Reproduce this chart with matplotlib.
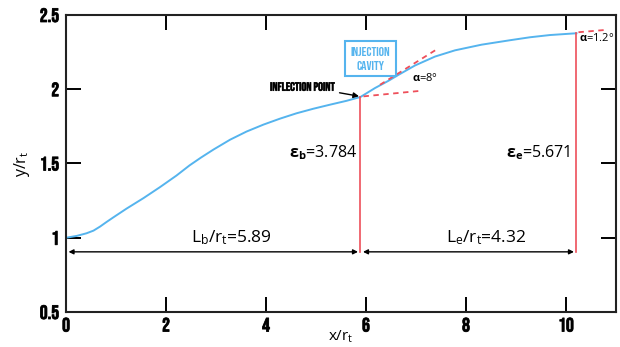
import matplotlib.pyplot as plt
import matplotlib.patheffects as pe

# nozzle contour (x/rt, y/rt)
x_contour = [0.0, 0.21, 0.41, 0.55, 0.68, 0.81, 0.95, 1.21, 1.55, 1.88, 2.21, 2.47, 2.7,
             2.95, 3.28, 3.61, 3.95, 4.28, 4.61, 4.95, 5.28, 5.61, 5.89,
             6.18, 6.45, 6.65, 6.98, 7.38, 7.78, 8.31, 8.88, 9.28, 9.68, 10.21]
y_contour = [1.0, 1.012, 1.03, 1.048, 1.075, 1.106, 1.138, 1.196, 1.267, 1.341, 1.419, 1.487, 1.54,
             1.594, 1.66, 1.715, 1.762, 1.802, 1.838, 1.869, 1.896, 1.922, 1.948,
             2.008, 2.057, 2.097, 2.16, 2.22, 2.262, 2.30, 2.33, 2.35, 2.365, 2.377]

x_infl, y_infl = 5.89, 1.948
x_exit, y_exit = 10.21, 2.377
y_dim = 0.905
Lb, Le = 5.89, 4.32
eps_b, eps_e = 3.784, 5.671

# tangent guides (red dashed)
tan_b_x, tan_b_y = [5.95, 7.11], [1.952, 1.99]
tan_c_x, tan_c_y = [6.28, 7.45], [2.03, 2.276]
tan_e_x, tan_e_y = [10.25, 10.81], [2.384, 2.40]

xticks = [0, 2, 4, 6, 8, 10]
yticks = [0.5, 1, 1.5, 2, 2.5]
yticklabels = ['0.5', '1', '1.5', '2', '2.5']

plt.rcParams['mathtext.fontset'] = 'custom'
plt.rcParams['mathtext.rm'] = 'Open Sans'
plt.rcParams['mathtext.it'] = 'Open Sans'
plt.rcParams['mathtext.bf'] = 'Open Sans:bold'

blue = '#55b4ee'
red = '#ee4f5a'
cond = ['Bebas Neue', 'Oswald', 'Barlow Condensed', 'DejaVu Sans']
sans = ['Open Sans', 'DejaVu Sans']

fig = plt.figure(figsize=(6.2, 3.47), dpi=100)
ax = fig.add_axes([0.1065, 0.1009, 0.887, 0.8559])

ax.plot(x_contour, y_contour, color=blue, lw=1.4)
ax.plot([x_infl, x_infl], [y_dim, y_infl], color=red, lw=1.2)
ax.plot([x_exit, x_exit], [y_dim, y_exit], color=red, lw=1.2)
for tx, ty in [(tan_b_x, tan_b_y), (tan_c_x, tan_c_y), (tan_e_x, tan_e_y)]:
    ax.plot(tx, ty, color=red, lw=1.3, ls=(0, (3, 2.5)))

arrow = dict(arrowstyle='<|-|>', color='black', lw=1.0, mutation_scale=7, shrinkA=0, shrinkB=0)
ax.annotate('', xy=(0.05, y_dim), xytext=(Lb - 0.05, y_dim), arrowprops=arrow)
ax.annotate('', xy=(Lb + 0.05, y_dim), xytext=(Lb + Le - 0.05, y_dim), arrowprops=arrow)

ax.text(3.3, y_dim + 0.03, r'L$_\mathrm{b}$/r$_\mathrm{t}$=%.2f' % Lb, family=sans,
        fontsize=12.5, ha='center', va='bottom')
ax.text(8.4, y_dim + 0.03, r'L$_\mathrm{e}$/r$_\mathrm{t}$=%.2f' % Le, family=sans,
        fontsize=12.5, ha='center', va='bottom')

ax.text(5.83, 1.575, r'$\mathbf{ε_b}$=%.3f' % eps_b, family=sans, fontsize=11.5,
        ha='right', va='center')
ax.text(10.1, 1.575, r'$\mathbf{ε_e}$=%.3f' % eps_e, family=sans, fontsize=11.5,
        ha='right', va='center')

ax.text(6.92, 2.075, r'$\mathbf{α}$=8°', family=sans, fontsize=8, ha='left', va='center')
ax.text(10.26, 2.345, r'$\mathbf{α}$=1.2°', family=sans, fontsize=8, ha='left', va='center')

ax.annotate('INFLECTION POINT', xy=(x_infl - 0.03, y_infl + 0.005), xytext=(4.08, 2.02),
            family=cond, fontsize=8.7, ha='left', va='center',
            path_effects=[pe.withStroke(linewidth=0.4, foreground='#111111')],
            arrowprops=dict(arrowstyle='-|>', color='black', lw=1.0, mutation_scale=8,
                            shrinkA=1, shrinkB=0))

ax.text(6.09, 2.205, 'INJECTION\nCAVITY', family=cond, fontsize=9.5,
        color=blue, ha='center', va='center', linespacing=1.55,
        bbox=dict(boxstyle='square,pad=0.45', fc='white', ec=blue, lw=1.5))

ax.set_xlim(0, 11)
ax.set_ylim(0.5, 2.5)
ax.set_xticks(xticks)
ax.set_yticks(yticks)
ax.set_xticklabels([str(v) for v in xticks])
ax.set_yticklabels(yticklabels)
ax.tick_params(direction='in', length=11, width=1.4, top=True, right=True, pad=4)
ax.tick_params(axis='y', pad=5)
for lab in ax.get_xticklabels() + ax.get_yticklabels():
    lab.set_family(cond)
    lab.set_fontsize(14)
    lab.set_path_effects([pe.withStroke(linewidth=0.6, foreground='#111111')])
for s in ax.spines.values():
    s.set_linewidth(1.5)
    s.set_color('#222222')

ax.set_xlabel(r'x/r$_\mathrm{t}$', family=sans, fontsize=11, va='top')
ax.xaxis.set_label_coords(0.5, -0.055)
ax.set_ylabel(r'y/r$_\mathrm{t}$', family=sans, fontsize=11.5)
ax.yaxis.set_label_coords(-0.062, 0.5)

fig.savefig('out.png', dpi=100)
